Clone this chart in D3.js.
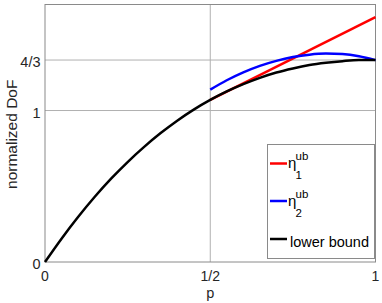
<!DOCTYPE html>
<html><head><meta charset="utf-8">
<script src="https://cdn.jsdelivr.net/npm/d3@7"></script>
<style>body{margin:0;background:#fff}svg{display:block;font-family:"Liberation Sans",Arial,sans-serif}</style>
</head><body><svg id="c" width="382" height="303"></svg>
<script>
const xTicks = [0, 0.5, 1];
const xTickLabels = ["0", "1/2", "1"];
const yTicks = [0, 1, 4/3];
const yTickLabels = ["0", "1", "4/3"];

const lowerP = [0,0.05,0.1,0.15,0.2,0.25,0.3,0.35,0.4,0.45,0.5,0.55,0.6,0.65,0.7,0.75,0.8,0.85,0.9,0.95,1];
const lowerV = [0,0.154,0.297,0.429,0.550,0.660,0.760,0.851,0.933,1.006,1.070,1.126,1.174,1.216,1.251,1.278,1.300,1.315,1.326,1.333,1.333];
const eta1P = [0.5, 1];
const eta1V = [1.07, 1.617];
const eta2P = [0.5,0.55,0.6,0.65,0.7,0.75,0.8,0.85,0.9,0.95,1];
const eta2V = [1.138,1.200,1.252,1.295,1.328,1.353,1.369,1.376,1.373,1.359,1.333];

const svg = d3.select("#c");
const L = 45, R = 375.5, T = 4.5, B = 262;
const x = d3.scaleLinear().domain([0, 1]).range([L, R]);
const y = d3.scaleLinear().domain([0, 1.7]).range([B, T]);

// grid
svg.append("g").selectAll("line").data(xTicks.slice(1, -1)).join("line")
  .attr("x1", d => x(d)).attr("x2", d => x(d)).attr("y1", T).attr("y2", B)
  .attr("stroke", "#b0b0b0").attr("stroke-width", 1);
svg.append("g").selectAll("line").data(yTicks.slice(1)).join("line")
  .attr("x1", L).attr("x2", R).attr("y1", d => y(d)).attr("y2", d => y(d))
  .attr("stroke", "#b0b0b0").attr("stroke-width", 1);

// frame
svg.append("rect").attr("x", L).attr("y", T).attr("width", R - L).attr("height", B - T)
  .attr("fill", "none").attr("stroke", "#8a8a8a").attr("stroke-width", 1);

// tick labels
svg.append("g").selectAll("text").data(xTicks).join("text")
  .attr("x", d => x(d)).attr("y", 281).attr("text-anchor", "middle")
  .attr("font-size", 14).attr("fill", "#262626").text((d, i) => xTickLabels[i]);
svg.append("g").selectAll("text").data(yTicks).join("text")
  .attr("x", 40.5).attr("y", d => y(d) + 7).attr("text-anchor", "end")
  .attr("font-size", 14.5).attr("fill", "#262626").text((d, i) => yTickLabels[i]);

svg.append("text").attr("x", x(0.5)).attr("y", 298).attr("text-anchor", "middle")
  .attr("font-size", 14.5).attr("fill", "#262626").text("p");
svg.append("text").attr("transform", `translate(17,${(T + B) / 2 + 1}) rotate(-90)`)
  .attr("text-anchor", "middle").attr("font-size", 15.5).attr("fill", "#262626").text("normalized DoF");

const line = d3.line().x(d => x(d[0])).y(d => y(d[1])).curve(d3.curveMonotoneX);
const series = [
  {p: eta1P, v: eta1V, c: "#ff0000"},
  {p: eta2P, v: eta2V, c: "#0000ff"},
  {p: lowerP, v: lowerV, c: "#000000"}
];
series.forEach(s => {
  svg.append("path").datum(s.p.map((p, i) => [p, s.v[i]]))
    .attr("d", line).attr("fill", "none").attr("stroke", s.c).attr("stroke-width", 2.5);
});

// legend
const lg = svg.append("g");
lg.append("rect").attr("x", 267.5).attr("y", 144.5).attr("width", 107).attr("height", 114)
  .attr("fill", "#fff").attr("stroke", "#8a8a8a").attr("stroke-width", 1);
const legY = [163.5, 201, 239];
const legC = ["#ff0000", "#0000ff", "#000000"];
legY.forEach((yy, i) => {
  lg.append("line").attr("x1", 270).attr("x2", 287).attr("y1", yy).attr("y2", yy)
    .attr("stroke", legC[i]).attr("stroke-width", 2.5);
});
["1", "2"].forEach((sub, i) => {
  const yy = legY[i];
  lg.append("text").attr("x", 288).attr("y", yy + 4.5).attr("font-size", 15).attr("fill", "#000").text("η");
  lg.append("text").attr("x", 295.5).attr("y", yy - 3.5).attr("font-size", 11.5).attr("fill", "#000").text("ub");
  lg.append("text").attr("x", 295.5).attr("y", yy + 15.5).attr("font-size", 11.5).attr("fill", "#000").text(sub);
});
lg.append("text").attr("x", 290).attr("y", legY[2] + 8).attr("font-size", 14.5).attr("fill", "#000").text("lower bound");
</script></body></html>
